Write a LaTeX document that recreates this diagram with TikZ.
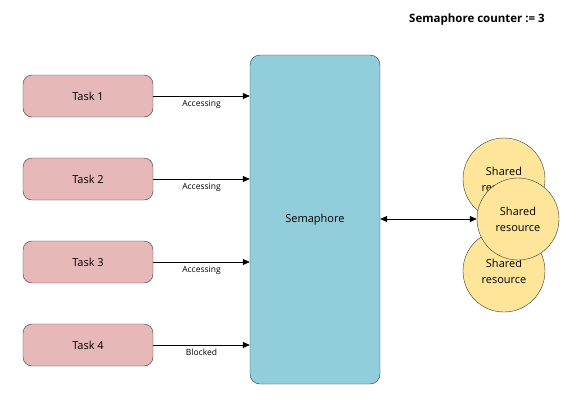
\documentclass[tikz,border=0pt]{standalone}
\usepackage{fontspec}
\setmainfont{Open Sans}
\usetikzlibrary{arrows.meta}
\definecolor{taskfill}{HTML}{E6B8B7}
\definecolor{semfill}{HTML}{92CDDC}
\definecolor{resfill}{HTML}{FFE599}
\definecolor{edge}{HTML}{36393D}
\tikzset{
  taskbox/.style={draw=edge, fill=taskfill, rounded corners=9pt, minimum width=130pt, minimum height=42pt, font=\fontsize{11}{13}\selectfont, inner sep=0pt},
  sembox/.style={draw=edge, fill=semfill, rounded corners=10pt, minimum width=130pt, minimum height=329pt, font=\fontsize{11}{13}\selectfont, inner sep=0pt},
  resnode/.style={draw=edge, fill=resfill, circle, minimum size=82pt, inner sep=0pt, align=center, font=\fontsize{11}{16}\selectfont},
  conn/.style={draw=black, line width=0.7pt, -{Triangle[length=7pt,width=6pt]}},
  lbl/.style={font=\fontsize{8.5}{10}\selectfont, inner sep=1pt}
}
\begin{document}
\begin{tikzpicture}[x=1pt,y=-1pt]
\useasboundingbox (0,0) rectangle (582,400);
\node[font=\bfseries\fontsize{11.5}{13}\selectfont] (title) at (477,20) {Semaphore counter := 3};
\node[taskbox] (t1) at (88,96) {Task 1};
\node[taskbox] (t2) at (88,179) {Task 2};
\node[taskbox] (t3) at (88,262) {Task 3};
\node[taskbox] (t4) at (88,345) {Task 4};
\node[sembox] (sem) at (315,219.5) {Semaphore};
\node[resnode] (r1) at (504,179) {Shared\\resource};
\node[resnode] (r3) at (504,271) {Shared\\resource};
\node[resnode] (r2) at (518,219) {Shared\\resource};
\draw[conn] (t1.east) -- (t1.east -| sem.west) node[lbl, midway, below=3pt] {Accessing};
\draw[conn] (t2.east) -- (t2.east -| sem.west) node[lbl, midway, below=3pt] {Accessing};
\draw[conn] (t3.east) -- (t3.east -| sem.west) node[lbl, midway, below=3pt] {Accessing};
\draw[conn] (t4.east) -- (t4.east -| sem.west) node[lbl, midway, below=3pt] {Blocked};
\draw[conn, {Triangle[length=7pt,width=6pt]}-{Triangle[length=7pt,width=6pt]}] (sem.east |- r2.west) -- (r2.west);
\end{tikzpicture}
\end{document}
